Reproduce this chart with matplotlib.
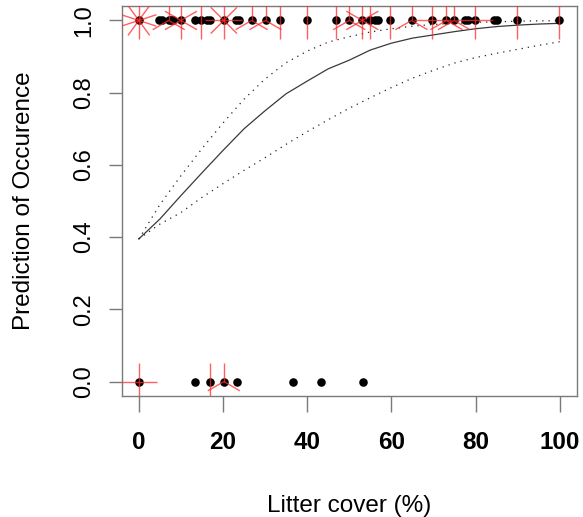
import numpy as np
import matplotlib
matplotlib.use("Agg")
import matplotlib.pyplot as plt
from matplotlib.collections import LineCollection

# ---- data ----
curve_x = [0, 5, 10, 15, 20, 25, 30, 35, 40, 45, 50, 55, 60, 65, 70, 75, 80, 85, 90, 95, 100]
fit_y = [0.395, 0.45, 0.515, 0.578, 0.64, 0.70, 0.75, 0.797, 0.832, 0.866, 0.89,
         0.918, 0.937, 0.951, 0.96, 0.969, 0.977, 0.983, 0.987, 0.99, 0.992]
upper_y = [0.395, 0.49, 0.57, 0.645, 0.716, 0.782, 0.838, 0.883, 0.915, 0.94, 0.955,
           0.968, 0.977, 0.984, 0.989, 0.992, 0.995, 0.996, 0.998, 0.999, 0.999]
lower_y = [0.395, 0.436, 0.468, 0.51, 0.548, 0.585, 0.62, 0.657, 0.692, 0.725, 0.757,
           0.786, 0.814, 0.84, 0.862, 0.882, 0.897, 0.909, 0.92, 0.931, 0.941]

present_x = [0, 4.8, 5.4, 7.1, 7.6, 8.1, 10.0, 13.4, 14.8, 16.3, 16.9, 20.2, 23.2, 23.8,
             26.8, 30.1, 33.5, 40.0, 46.8, 50.0, 53.1, 54.9, 56.2, 56.8, 59.8, 64.8,
             69.7, 73.1, 74.9, 77.6, 78.2, 79.8, 84.4, 85.0, 89.9, 99.9]
present_n = [10, 1, 1, 3, 1, 1, 6, 1, 2, 1, 1, 8, 1, 1,
             3, 3, 2, 2, 2, 3, 6, 2, 1, 1, 2, 3,
             4, 3, 3, 1, 1, 4, 1, 1, 2, 2]
absent_x = [0, 13.4, 16.9, 20.2, 23.4, 36.7, 43.3, 53.3]
absent_n = [4, 1, 2, 3, 1, 1, 1, 1]

x_ticks = [0, 20, 40, 60, 80, 100]
y_ticks = [0.0, 0.2, 0.4, 0.6, 0.8, 1.0]
y_tick_labels = ["0.0", "0.2", "0.4", "0.6", "0.8", "1.0"]

# ---- figure ----
W, H = 583, 517
fig = plt.figure(figsize=(W / 100, H / 100), dpi=100)
ax = fig.add_axes([122 / W, (H - 396) / H, (576.5 - 122) / W, (396 - 6) / H])
ax.set_xlim(-4, 104)
ax.set_ylim(-0.04, 1.04)

frame_col = "#7a7a7a"
for s in ax.spines.values():
    s.set_color(frame_col)
    s.set_linewidth(1.0)

font = "Liberation Sans"
ax.set_xticks(x_ticks)
ax.set_xticklabels([str(t) for t in x_ticks], fontsize=17.5, fontweight="bold", family=font)
ax.set_yticks(y_ticks)
ax.set_yticklabels(y_tick_labels, fontsize=17, rotation=90, va="center", family=font)
ax.tick_params(axis="x", length=11.5, width=1.0, color=frame_col, pad=14)
ax.tick_params(axis="y", length=9.5, width=1.0, color=frame_col, pad=10)
ax.set_xlabel("Litter cover (%)", fontsize=17.5, family=font, labelpad=29)
ax.set_ylabel("Prediction of Occurence", fontsize=17.5, family=font, labelpad=27)

# curves
ax.plot(curve_x, fit_y, color="#3a3a3a", lw=0.9, zorder=2)
ax.plot(curve_x, upper_y, color="#222222", lw=0.9, ls=(0, (1, 4)), zorder=2)
ax.plot(curve_x, lower_y, color="#222222", lw=0.9, ls=(0, (1, 4)), zorder=2)

# sunflower points
def sunflower(xs, ns, yval):
    ax.scatter(xs, [yval] * len(xs), s=38, color="black", zorder=3, linewidths=0)
    L = 18.5  # petal length in pixels
    segs = []
    for x, n in zip(xs, ns):
        if n < 2:
            continue
        cx, cy = ax.transData.transform((x, yval))
        for k in range(1, n + 1):
            d = 2 * np.pi * k / n
            ex, ey = cx + L * np.sin(d), cy + L * np.cos(d)
            p0 = ax.transData.inverted().transform((cx, cy))
            p1 = ax.transData.inverted().transform((ex, ey))
            segs.append([p0, p1])
    lc = LineCollection(segs, colors="#ff2a2a", linewidths=1.0, alpha=0.75, zorder=4)
    ax.add_collection(lc)

sunflower(present_x, present_n, 1.0)
sunflower(absent_x, absent_n, 0.0)

fig.savefig("out.png", dpi=100)
